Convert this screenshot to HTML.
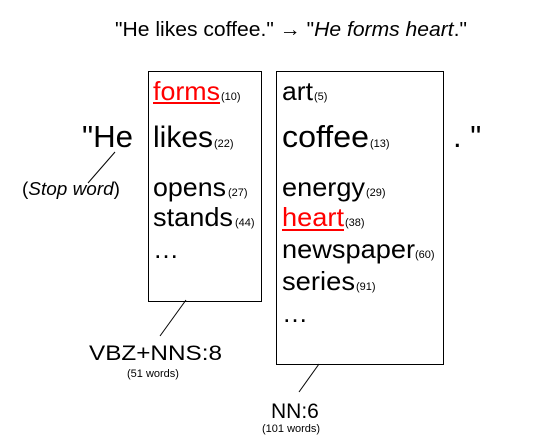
<!DOCTYPE html>
<html><head><style>
body{margin:0;background:#fff;width:546px;height:440px;overflow:hidden;position:relative;font-family:"Liberation Sans",Arial,sans-serif;color:#000}
svg{position:absolute;left:0;top:0}
</style></head><body>
<svg width="546" height="440" xmlns="http://www.w3.org/2000/svg" font-family="Liberation Sans, Arial, sans-serif">
<text x="115" y="36" font-size="20" textLength="352" lengthAdjust="spacingAndGlyphs">"He likes coffee." → "<tspan font-style="italic">He forms heart</tspan>."</text>
<rect x="148.5" y="71.5" width="113" height="230" fill="none" stroke="#000"/>
<rect x="276.5" y="71.5" width="167" height="293" fill="none" stroke="#000"/>
<text x="82" y="147" font-size="31" textLength="51" lengthAdjust="spacingAndGlyphs">"He</text>
<text x="453" y="147" font-size="31">. "</text>
<text x="22" y="195" font-size="18" textLength="98" lengthAdjust="spacingAndGlyphs">(<tspan font-style="italic">Stop word</tspan>)</text>
<line x1="115" y1="152" x2="88" y2="183" stroke="#000"/>
<g font-size="26" lengthAdjust="spacingAndGlyphs">
<text x="153" y="100" fill="#f00" textLength="67" lengthAdjust="spacingAndGlyphs">forms</text>
<line x1="153" y1="103" x2="220" y2="103" stroke="#f00" stroke-width="2"/>
<text x="153" y="147" font-size="30" textLength="60" lengthAdjust="spacingAndGlyphs">likes</text>
<text x="153" y="196" textLength="73" lengthAdjust="spacingAndGlyphs">opens</text>
<text x="153" y="226" textLength="80" lengthAdjust="spacingAndGlyphs">stands</text>
<text x="153" y="258">…</text>
<text x="282" y="100" textLength="31" lengthAdjust="spacingAndGlyphs">art</text>
<text x="282" y="147" font-size="31" textLength="87" lengthAdjust="spacingAndGlyphs">coffee</text>
<text x="282" y="196" textLength="83" lengthAdjust="spacingAndGlyphs">energy</text>
<text x="282" y="226" fill="#f00" textLength="62" lengthAdjust="spacingAndGlyphs">heart</text>
<line x1="282" y1="230" x2="344" y2="230" stroke="#f00" stroke-width="2"/>
<text x="282" y="258" textLength="133" lengthAdjust="spacingAndGlyphs">newspaper</text>
<text x="282" y="290" textLength="73" lengthAdjust="spacingAndGlyphs">series</text>
<text x="282" y="322">…</text>
</g>
<g font-size="11">
<text x="221" y="100">(10)</text>
<text x="214" y="147">(22)</text>
<text x="228" y="196">(27)</text>
<text x="235" y="226">(44)</text>
<text x="314" y="100">(5)</text>
<text x="370" y="147">(13)</text>
<text x="366" y="196">(29)</text>
<text x="345" y="226">(38)</text>
<text x="415" y="258">(60)</text>
<text x="356" y="290">(91)</text>
</g>
<line x1="186" y1="300" x2="160" y2="336" stroke="#000"/>
<text x="89" y="360" font-size="21" textLength="133" lengthAdjust="spacingAndGlyphs">VBZ+NNS:8</text>
<text x="127" y="377" font-size="11">(51 words)</text>
<line x1="319" y1="364" x2="299" y2="392" stroke="#000"/>
<text x="271" y="418" font-size="21">NN:6</text>
<text x="262" y="432" font-size="11">(101 words)</text>
</svg>
</body></html>
